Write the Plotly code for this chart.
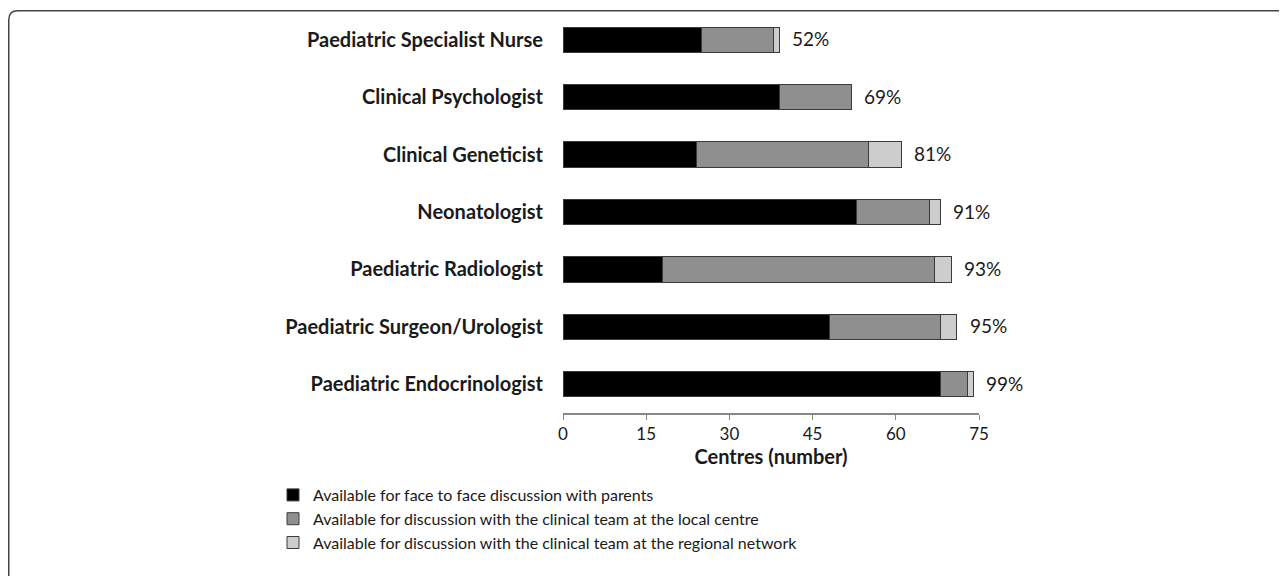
import plotly.graph_objects as go

categories = [
    "Paediatric Specialist Nurse",
    "Clinical Psychologist",
    "Clinical Geneticist",
    "Neonatologist",
    "Paediatric Radiologist",
    "Paediatric Surgeon/Urologist",
    "Paediatric Endocrinologist",
]
face_to_face = [25, 39, 24, 53, 18, 48, 68]
local_centre = [13, 13, 31, 13, 49, 20, 5]
regional_network = [1, 0, 6, 2, 3, 3, 1]
percent_labels = ["52%", "69%", "81%", "91%", "93%", "95%", "99%"]
series_names = [
    "Available for face to face discussion with parents",
    "Available for discussion with the clinical team at the local centre",
    "Available for discussion with the clinical team at the regional network",
]
x_ticks = [0, 15, 30, 45, 60, 75]

# page has an 8px body margin; figure coordinates = page - 8
W, H = 1279, 568
L, R, T, B = 555, 308, 3, 163
PW, PH = W - L - R, H - T - B

FONT = "Lato"
fig = go.Figure()
colors = ["#000000", "#8f8f8f", "#cdcdcd"]
for name, vals, col in zip(series_names, [face_to_face, local_centre, regional_network], colors):
    fig.add_trace(go.Bar(
        y=categories, x=vals, name=name, orientation="h",
        marker=dict(color=col, line=dict(color="#3a3a3a", width=1)),
        hoverinfo="x+name",
    ))

totals = [a + b + c for a, b, c in zip(face_to_face, local_centre, regional_network)]
for cat, tot, lab in zip(categories, totals, percent_labels):
    fig.add_annotation(x=tot, y=cat, text=lab, showarrow=False, xanchor="left",
                       xshift=11, yshift=1, font=dict(family=FONT, size=19, color="#1a1a1a"))

# rounded frame border (pixel -> paper conversion)
def px(x):
    return (x - L) / PW
def py(y):
    return (H - B - y) / PH

r = 9
x0, y0 = 0.75, 2.75
x1, y1 = W + 20, H + 20
path = (f"M {px(x1)},{py(y0)} L {px(x0 + r)},{py(y0)} "
        f"Q {px(x0)},{py(y0)} {px(x0)},{py(y0 + r)} "
        f"L {px(x0)},{py(y1)}")
fig.add_shape(type="path", path=path, xref="paper", yref="paper",
              line=dict(color="#444444", width=1.5), layer="above")

fig.update_layout(
    width=W, height=H,
    margin=dict(l=L, r=R, t=T, b=B, autoexpand=False),
    barmode="stack",
    bargap=0.56,
    plot_bgcolor="white",
    paper_bgcolor="white",
    font=dict(family=FONT, color="#1a1a1a"),
    showlegend=True,
    legend=dict(
        x=px(265), y=py(470), xanchor="left", yanchor="top",
        font=dict(family=FONT, size=16, color="#1a1a1a"),
        traceorder="normal", itemclick=False, itemdoubleclick=False,
        bgcolor="rgba(0,0,0,0)", tracegroupgap=0,
    ),
    xaxis=dict(
        range=[0, 75], tickvals=x_ticks, ticks="outside", ticklen=5,
        tickcolor="#888", showline=True, linecolor="#888", linewidth=1.5,
        showgrid=False, zeroline=False,
        tickfont=dict(family=FONT, size=17, color="#1a1a1a"),
        title=dict(text="<b>Centres (number)</b>", standoff=0,
                   font=dict(family=FONT, size=20, color="#1a1a1a")),
    ),
    yaxis=dict(
        categoryorder="array", categoryarray=categories[::-1],
        showline=False, showgrid=False, zeroline=False, ticks="",
        tickfont=dict(family=FONT, size=20, color="#1a1a1a", weight="bold"),
        ticklabelstandoff=19,
    ),
)

fig.write_html("out.html")
